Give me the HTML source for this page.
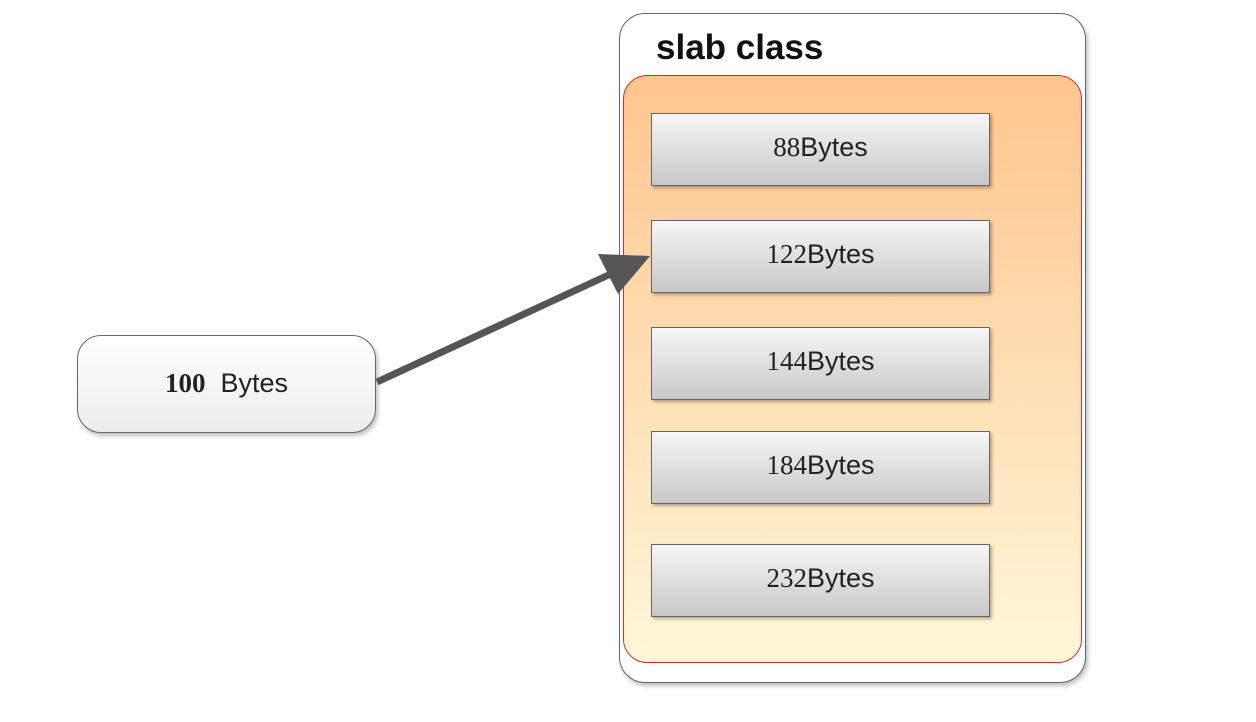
<!DOCTYPE html>
<html><head><style>
body{margin:0;width:1256px;height:722px;background:#fff;position:relative;overflow:hidden;font-family:"Liberation Sans",sans-serif}
.a{position:absolute;box-sizing:border-box}
.outer{left:619px;top:13px;width:467px;height:670px;border:1.5px solid #666;border-radius:26px;background:#fff;box-shadow:2px 3px 4px rgba(0,0,0,.25)}
.inner{left:623px;top:75px;width:459px;height:588px;border:1.5px solid #d03030;border-radius:24px;background:linear-gradient(#ffc58e,#fff7d8)}
.b{left:651px;width:339px;height:73px;border:1.5px solid #666;background:linear-gradient(#f6f6f6,#c8c8c8);box-shadow:2px 2px 3px rgba(0,0,0,.3);text-align:center;line-height:66px;font-size:27px;color:#222}
.b span{font-family:"Liberation Serif",serif}
.n{left:77px;top:335px;width:299px;height:98px;border:1.5px solid #666;border-radius:24px;background:linear-gradient(#fff,#ececec);box-shadow:2px 3px 4px rgba(0,0,0,.25);text-align:center;line-height:94px;font-size:27px;color:#222}
</style></head><body>
<div class="a outer"></div>
<div class="a" style="left:656px;top:28px;font-size:35px;font-weight:bold;color:#111">slab class</div>
<div class="a inner"></div>
<div class="a b" style="top:113px"><span>88</span>Bytes</div>
<div class="a b" style="top:220px"><span>122</span>Bytes</div>
<div class="a b" style="top:327px"><span>144</span>Bytes</div>
<div class="a b" style="top:431px"><span>184</span>Bytes</div>
<div class="a b" style="top:544px"><span>232</span>Bytes</div>
<div class="a n"><b style="font-family:'Liberation Serif',serif">100</b>&nbsp; Bytes</div>
<svg class="a" style="left:0;top:0" width="1256" height="722">
<line x1="377" y1="382" x2="615" y2="272" stroke="#555" stroke-width="7"/>
<polygon points="650,256 598,254 618,294" fill="#555"/>
</svg>
</body></html>
